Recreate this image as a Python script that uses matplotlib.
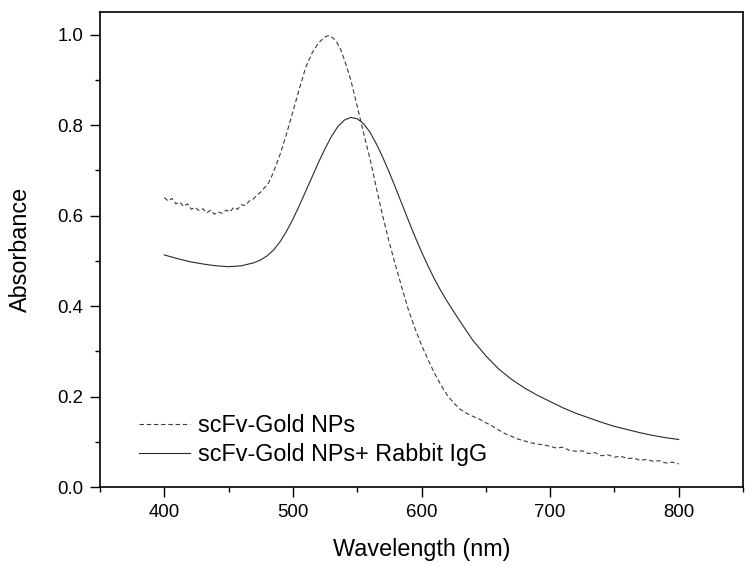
import matplotlib
matplotlib.use("Agg")
import matplotlib.pyplot as plt
from matplotlib.ticker import MultipleLocator, FormatStrFormatter

plt.rcParams['font.family'] = ['Liberation Sans', 'DejaVu Sans']

# scFv-Gold NPs (dashed)
wl_np = [400, 403, 406, 409, 412, 415, 418, 421, 424, 427, 430, 433, 436, 439,
         442, 445, 448, 451, 454, 457, 460, 463, 466, 469, 472, 475, 478, 481,
         484, 487, 490, 495, 500, 505, 510, 515, 520, 525, 528, 531, 534, 537,
         540, 545, 550, 555, 560, 565, 570, 575, 580, 585, 590, 595, 600, 605,
         610, 615, 620, 625, 630, 635, 640, 645, 650, 655, 660, 665, 670, 675,
         680, 685, 690, 695, 700, 705, 710, 715, 720, 725, 730, 735, 740, 745,
         750, 755, 760, 765, 770, 775, 780, 785, 790, 795, 800]
abs_np = [0.640, 0.632, 0.638, 0.626, 0.630, 0.620, 0.626, 0.614, 0.618, 0.611,
          0.615, 0.606, 0.612, 0.603, 0.608, 0.605, 0.612, 0.608, 0.618, 0.614,
          0.624, 0.622, 0.632, 0.636, 0.645, 0.652, 0.662, 0.672, 0.690, 0.712,
          0.735, 0.780, 0.830, 0.880, 0.928, 0.960, 0.982, 0.995, 0.998, 0.993,
          0.984, 0.968, 0.945, 0.900, 0.842, 0.782, 0.725, 0.660, 0.597, 0.540,
          0.488, 0.438, 0.390, 0.350, 0.314, 0.282, 0.252, 0.226, 0.203, 0.186,
          0.172, 0.163, 0.156, 0.150, 0.142, 0.135, 0.126, 0.118, 0.112, 0.106,
          0.102, 0.098, 0.095, 0.093, 0.090, 0.086, 0.088, 0.081, 0.079, 0.080,
          0.074, 0.076, 0.069, 0.071, 0.066, 0.068, 0.063, 0.064, 0.059, 0.061,
          0.057, 0.058, 0.053, 0.055, 0.051]

# scFv-Gold NPs + Rabbit IgG (solid)
wl_igg = [400, 410, 420, 430, 440, 450, 460, 470, 475, 480, 485, 490, 495, 500,
          505, 510, 515, 520, 525, 530, 535, 540, 545, 550, 555, 560, 565, 570,
          575, 580, 585, 590, 595, 600, 605, 610, 615, 620, 625, 630, 635, 640,
          650, 660, 670, 680, 690, 700, 710, 720, 730, 740, 750, 760, 770, 780,
          790, 800]
abs_igg = [0.513, 0.505, 0.498, 0.493, 0.489, 0.487, 0.489, 0.496, 0.502, 0.511,
           0.524, 0.542, 0.565, 0.592, 0.622, 0.654, 0.686, 0.718, 0.748, 0.775,
           0.797, 0.811, 0.817, 0.814, 0.803, 0.784, 0.758, 0.728, 0.695, 0.660,
           0.624, 0.588, 0.553, 0.520, 0.489, 0.460, 0.434, 0.410, 0.388, 0.366,
           0.345, 0.324, 0.290, 0.261, 0.238, 0.219, 0.203, 0.189, 0.175, 0.163,
           0.153, 0.143, 0.134, 0.127, 0.120, 0.114, 0.109, 0.105]

labels = ["scFv-Gold NPs", "scFv-Gold NPs+ Rabbit IgG"]

fig = plt.figure(figsize=(7.52, 5.68), dpi=100)
ax = fig.add_axes([100/752, 81/568, 643/752, 475/568])

ax.plot(wl_np, abs_np, color='#3a3a3a', lw=0.8, linestyle=(0, (4, 2.5)), label=labels[0])
ax.plot(wl_igg, abs_igg, color='#2a2a2a', lw=0.8, linestyle='-', label=labels[1])

ax.set_xlim(350, 850)
ax.set_ylim(0.0, 1.05)
ax.xaxis.set_major_locator(MultipleLocator(100))
ax.xaxis.set_minor_locator(MultipleLocator(50))
ax.yaxis.set_major_locator(MultipleLocator(0.2))
ax.yaxis.set_minor_locator(MultipleLocator(0.1))
ax.yaxis.set_major_formatter(FormatStrFormatter('%.1f'))

ax.tick_params(which='major', direction='out', length=7.2, width=1.0, labelsize=13.4, pad=5)
ax.tick_params(which='minor', direction='out', length=3.6, width=1.0)
ax.tick_params(top=False, right=False, which='both')
for s in ax.spines.values():
    s.set_linewidth(1.2)

ax.set_xlabel("Wavelength (nm)", fontsize=16.8, labelpad=12)
ax.set_ylabel("Absorbance", fontsize=16.8, labelpad=18)

leg = ax.legend(loc='lower left', bbox_to_anchor=(0.053, 0.035), frameon=False,
                fontsize=16.8, handlelength=2.2, handletextpad=0.35,
                labelspacing=0.25, borderpad=0.2, borderaxespad=0)

fig.savefig("out.png", dpi=100)
